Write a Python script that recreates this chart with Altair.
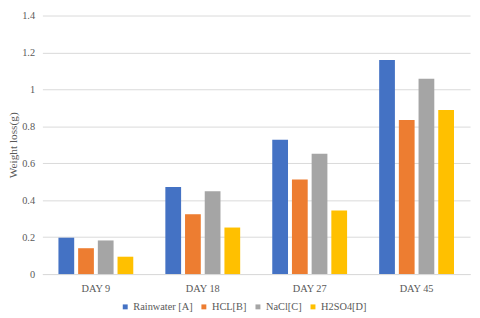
import altair as alt
import pandas as pd

days = ["DAY 9", "DAY 18", "DAY 27", "DAY 45"]
series = ["Rainwater [A]", "HCL[B]", "NaCl[C]", "H2SO4[D]"]
colors = ["#4472C4", "#ED7D31", "#A5A5A5", "#FFC000"]
rainwater = [0.197, 0.472, 0.728, 1.159]
hcl = [0.140, 0.324, 0.512, 0.834]
nacl = [0.182, 0.448, 0.652, 1.057]
h2so4 = [0.094, 0.252, 0.344, 0.889]
y_ticks = [0, 0.2, 0.4, 0.6, 0.8, 1.0, 1.2, 1.4]

rows = []
for s, vals in zip(series, [rainwater, hcl, nacl, h2so4]):
    for d, v in zip(days, vals):
        rows.append({"Day": d, "Series": s, "Value": v})
df = pd.DataFrame(rows)

font = "Liberation Serif, Times New Roman, serif"
gray = "#595959"

chart = alt.Chart(df).mark_bar().encode(
    x=alt.X("Day:N", sort=days,
            scale=alt.Scale(paddingInner=0.3, paddingOuter=0.15),
            axis=alt.Axis(title=None, labelAngle=0, ticks=False, domainColor="#D9D9D9",
                          labelColor=gray, labelFont=font, labelFontSize=10.5, labelPadding=10)),
    xOffset=alt.XOffset("Series:N", sort=series,
                        scale=alt.Scale(paddingInner=0.2, paddingOuter=0)),
    y=alt.Y("Value:Q", scale=alt.Scale(domain=[0, 1.4]),
            axis=alt.Axis(title="Weight loss(g)", values=y_ticks, format="~g", ticks=False,
                          domain=False, gridColor="#D9D9D9", labelColor=gray, labelFont=font,
                          labelFontSize=10.5, labelPadding=8, titleColor=gray, titleFont=font,
                          titleFontSize=11.5, titleFontWeight="normal", titlePadding=3)),
    color=alt.Color("Series:N", sort=series,
                    scale=alt.Scale(domain=series, range=colors),
                    legend=alt.Legend(title=None, orient="none", direction="horizontal",
                                      legendX=79, legendY=291,
                                      symbolType="square", symbolSize=25, symbolStrokeWidth=0,
                                      labelFont=font, labelFontSize=10.5, labelColor=gray,
                                      labelOffset=3, columnPadding=6)),
).properties(
    width=435, height=263,
    autosize=alt.AutoSizeParams(type="none"),
    padding={"left": 35, "top": 5, "right": 2, "bottom": 40},
).configure(font=font).configure_view(stroke=None)

chart.save("out.html", embed_options={"renderer": "svg", "actions": False})
